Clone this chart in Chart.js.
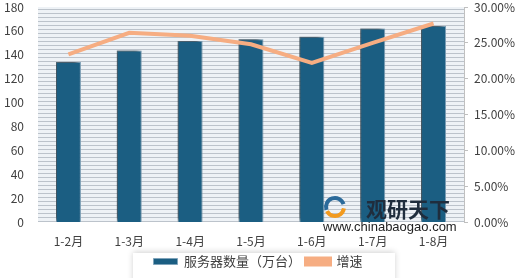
<!DOCTYPE html>
<html>
<head>
<meta charset="utf-8">
<script src="https://cdn.jsdelivr.net/npm/chart.js@4/dist/chart.umd.min.js"></script>
<style>
  html, body { margin: 0; padding: 0; background: #fff; }
  #wrap { width: 520px; height: 278px; }
</style>
</head>
<body>
<div id="wrap"><canvas id="chart" width="520" height="278"></canvas></div>
<script>
const categories = ['1-2月', '1-3月', '1-4月', '1-5月', '1-6月', '1-7月', '1-8月'];
const servers = [134, 143.5, 151.5, 153, 155, 162, 164];
const growth = [23.4, 26.4, 26.0, 24.8, 22.2, 25.0, 27.7];

const font = "'Noto Sans CJK SC', 'Noto Sans', sans-serif";

// striped plot background + legend box
const backdrop = {
    id: 'backdrop',
    beforeDraw(chart) {
        const { ctx, chartArea: a } = chart;
        ctx.save();
        ctx.fillStyle = '#eef2f6';
        ctx.fillRect(a.left, a.top, a.right - a.left, a.bottom - a.top);
        ctx.strokeStyle = '#bcc3cb';
        ctx.lineWidth = 1;
        for (let y = a.bottom - 0.5; y > a.top; y -= 4) {
            ctx.beginPath();
            ctx.moveTo(a.left, y);
            ctx.lineTo(a.right, y);
            ctx.stroke();
        }
        ctx.shadowColor = 'rgba(0,0,0,0.18)';
        ctx.shadowBlur = 6;
        ctx.shadowOffsetY = -1;
        ctx.fillStyle = '#fff';
        ctx.fillRect(133, 253, 262, 40);
        ctx.restore();
    }
};

// soft shadow behind the bars
const barShadow = {
    id: 'barShadow',
    beforeDatasetDraw(chart, args) {
        if (args.index !== 0) return;
        const ctx = chart.ctx;
        ctx.save();
        ctx.shadowColor = 'rgba(0,0,0,0.55)';
        ctx.shadowBlur = 4;
        ctx.shadowOffsetX = -3;
        ctx.shadowOffsetY = -2;
    },
    afterDatasetDraw(chart, args) {
        if (args.index !== 0) return;
        chart.ctx.restore();
    }
};

// watermark
const mark = {
    id: 'mark',
    afterDraw(chart) {
        const ctx = chart.ctx;
        ctx.save();
        ctx.lineWidth = 4;
        ctx.strokeStyle = '#2b6a9a';
        ctx.beginPath();
        ctx.arc(335, 207, 9, Math.PI * 0.9, Math.PI * 1.9);
        ctx.stroke();
        ctx.strokeStyle = '#f29a1f';
        ctx.beginPath();
        ctx.arc(335, 207, 9, Math.PI * 0.05, Math.PI * 0.85);
        ctx.stroke();
        ctx.fillStyle = '#1f2d3d';
        ctx.font = "bold 21px 'Noto Sans CJK SC'";
        ctx.textBaseline = 'middle';
        ctx.fillText('观研天下', 366, 209);
        ctx.font = "13px 'Liberation Sans', sans-serif";
        ctx.fillStyle = '#222';
        ctx.fillText('www.chinabaogao.com', 323, 227);
        ctx.restore();
    }
};

function noOverhang(s, w) {
    s.width = w;
    s.paddingTop = 0;
    s.paddingBottom = 0;
}

new Chart(document.getElementById('chart'), {
    type: 'bar',
    data: {
        labels: categories,
        datasets: [{
            label: '服务器数量（万台）',
            data: servers,
            backgroundColor: '#1b5e82',
            borderColor: '#7fa3ba',
            borderWidth: 1,
            categoryPercentage: 0.82,
            barPercentage: 0.5,
            yAxisID: 'y',
            order: 1
        }, {
            type: 'line',
            label: '增速',
            data: growth,
            borderColor: '#f6ad82',
            backgroundColor: '#f6ad82',
            borderWidth: 4,
            pointRadius: 0,
            tension: 0,
            yAxisID: 'y1',
            order: 0
        }]
    },
    plugins: [backdrop, barShadow, mark],
    options: {
        responsive: false,
        animation: false,
        layout: { padding: { top: 7, left: 0, right: 4, bottom: 0 } },
        plugins: {
            tooltip: { enabled: false },
            legend: {
                position: 'bottom',
                labels: {
                    color: '#404040',
                    font: { family: font, size: 13 },
                    boxWidth: 24,
                    boxHeight: 6,
                    padding: 5,
                    sort: (a, b) => a.datasetIndex - b.datasetIndex
                }
            }
        },
        scales: {
            x: {
                grid: { display: false, drawTicks: false, tickLength: 0 },
                border: { display: false },
                ticks: { color: '#404040', font: { family: font, size: 12 }, padding: 12 },
                afterFit(s) { s.height = 28; s.paddingLeft = 0; s.paddingRight = 0; }
            },
            y: {
                min: 0,
                max: 180,
                ticks: { stepSize: 20, color: '#404040', font: { family: font, size: 12 }, padding: 6 },
                grid: { display: false },
                border: { display: false },
                afterFit(s) { noOverhang(s, 38); }
            },
            y1: {
                position: 'right',
                min: 0,
                max: 30,
                ticks: {
                    stepSize: 5,
                    color: '#404040',
                    font: { family: font, size: 12 },
                    padding: 6,
                    callback: v => v.toFixed(2) + '%'
                },
                grid: { drawOnChartArea: false, tickLength: 4, color: '#c0c0c0' },
                border: { display: true, color: '#c0c0c0' },
                afterFit(s) { noOverhang(s, 52); }
            }
        }
    }
});
</script>
</body>
</html>
